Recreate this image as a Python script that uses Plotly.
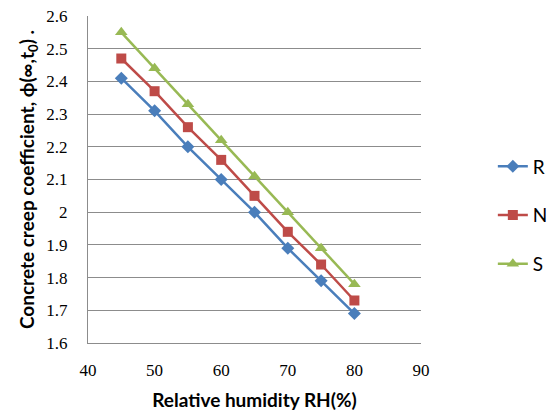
import plotly.graph_objects as go

rh = [45, 50, 55, 60, 65, 70, 75, 80]
series_names = ["R", "N", "S"]
r_vals = [2.41, 2.31, 2.20, 2.10, 2.00, 1.89, 1.79, 1.69]
n_vals = [2.47, 2.37, 2.26, 2.16, 2.05, 1.94, 1.84, 1.73]
s_vals = [2.55, 2.44, 2.33, 2.22, 2.11, 2.00, 1.89, 1.78]
colors = ["#4A7EBB", "#BE4B48", "#98B954"]
symbols = ["diamond", "square", "triangle-up"]

fig = go.Figure()
for i, (name, vals) in enumerate(zip(series_names, [r_vals, n_vals, s_vals])):
    fig.add_trace(go.Scatter(
        x=rh, y=vals, name=name, mode="lines+markers",
        line=dict(color=colors[i], width=2.5),
        marker=dict(symbol=symbols[i], size=10 if i != 2 else 11, color=colors[i]),
        legendgroup=name,
    ))

grid_col = "#8C8C8C"
tick_font = dict(family="Liberation Serif, DejaVu Serif, serif", size=17, color="black")
title_font = dict(family="Lato, Open Sans, sans-serif", size=19, color="black")
fig.update_layout(
    width=555, height=416,
    margin=dict(l=88, r=134, t=16, b=73),
    paper_bgcolor="white", plot_bgcolor="white",
    showlegend=True,
    legend=dict(
        xref="container", x=0.888, y=0.39, xanchor="left", yanchor="middle",
        font=dict(family="Lato, Open Sans, sans-serif", size=19, color="black"),
        tracegroupgap=21, traceorder="grouped",
        bgcolor="rgba(0,0,0,0)", borderwidth=0,
        entrywidth=20, entrywidthmode="pixels",
    ),
    xaxis=dict(
        range=[40, 90], dtick=10, tick0=40,
        showgrid=False, showline=True, linecolor=grid_col, linewidth=1,
        ticks="", zeroline=False, ticklabelstandoff=12, automargin=False,
        tickfont=tick_font,
        title=dict(text="<b>Relative humidity RH(%)</b>", font=title_font, standoff=14),
    ),
    yaxis=dict(
        range=[1.6, 2.6], dtick=0.1, tick0=1.6,
        showgrid=True, gridcolor=grid_col, gridwidth=1,
        showline=True, linecolor=grid_col, linewidth=1,
        ticks="", zeroline=False, ticklabelstandoff=16, automargin=False,
        tickformat="~g",
        tickfont=tick_font,
        title=dict(text="<b>Concrete creep coefficient, ϕ(∞,t<sub>0</sub>) .</b>",
                   font=title_font, standoff=6),
    ),
)

fig.write_html("out.html")
